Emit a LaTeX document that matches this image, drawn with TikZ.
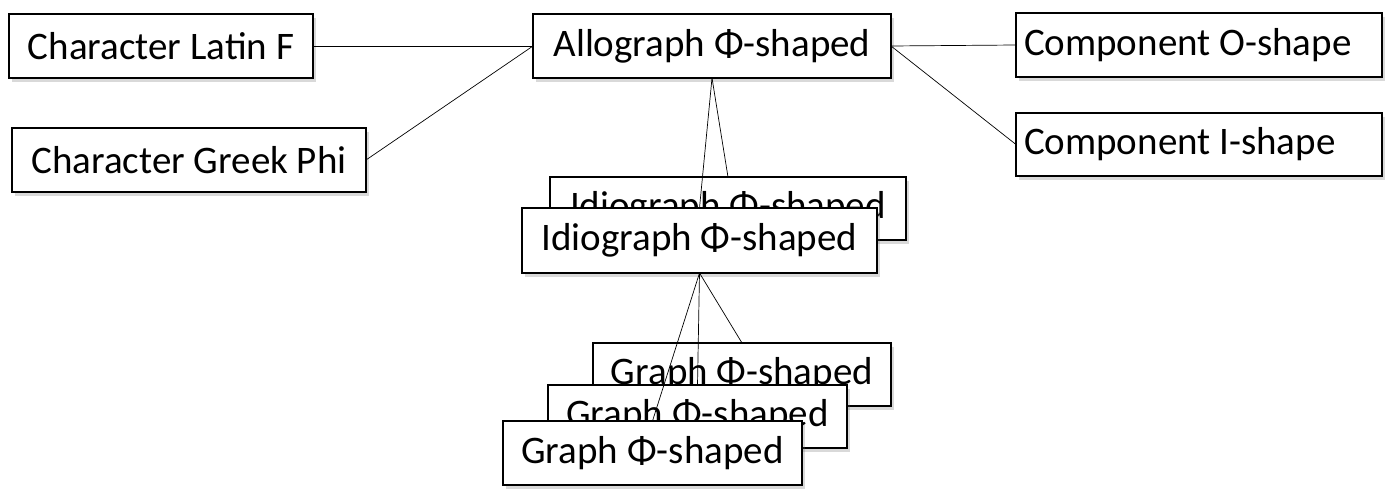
\documentclass[tikz,border=0pt]{standalone}
\usepackage{fontspec}
\setmainfont{Carlito}
\usetikzlibrary{shadows}

\begin{document}
\begin{tikzpicture}[x=1pt, y=-1pt, every node/.style={font=\fontsize{39}{46}\selectfont}]
  \tikzstyle{card}=[draw, line width=1.6pt, fill=white, outer sep=0pt, inner sep=0pt,
    drop shadow={shadow xshift=3pt, shadow yshift=-4pt, opacity=0.25, fill=black!60}]
  \tikzstyle{link}=[line width=0.7pt]
  \useasboundingbox (0,0) rectangle (1393,500);
  % characters
  \node[card, minimum width=304pt, minimum height=64pt] (latin) at (161,46) {Character Latin F};
  \node[card, minimum width=354pt, minimum height=64pt] (greek) at (189,160) {Character Greek Phi};
  % allograph and components
  \node[card, minimum width=358pt, minimum height=64pt] (allo) at (712,46) {Allograph Φ-shaped};
  \node[card, minimum width=366pt, minimum height=64pt] (compO) at (1199,45) {\makebox[350pt][l]{Component O-shape}};
  \node[card, minimum width=366pt, minimum height=63pt] (compI) at (1199,144.5) {\makebox[350pt][l]{Component I-shape}};
  % idiographs
  \node[card, minimum width=356pt, minimum height=63pt] (idioB) at (728,208.5) {Idiograph Φ-shaped};
  \node[card, minimum width=355pt, minimum height=65pt] (idioF) at (699.5,240.5) {Idiograph Φ-shaped};
  % graphs
  \node[card, minimum width=298pt, minimum height=63pt] (grB) at (742,374.5) {Graph Φ-shaped};
  \node[card, minimum width=299pt, minimum height=63pt] (grM) at (697.5,416.5) {Graph Φ-shaped};
  \node[card, minimum width=299pt, minimum height=64pt] (grF) at (652.5,453) {Graph Φ-shaped};
  % links
  \draw[link] (latin.east) -- (allo.west);
  \draw[link] (greek.east) -- (allo.west);
  \draw[link] (allo.east) -- (compO.west);
  \draw[link] (allo.east) -- (compI.west);
  \draw[link] (allo.south) -- (idioB.north);
  \draw[link] (allo.south) -- (idioF.north);
  \draw[link] (idioF.south) -- (grB.north);
  \draw[link] (idioF.south) -- (grM.north);
  \draw[link] (idioF.south) -- (grF.north);
\end{tikzpicture}
\end{document}
